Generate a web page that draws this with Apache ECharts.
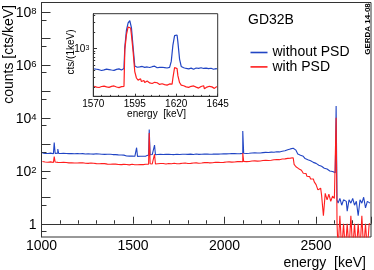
<!DOCTYPE html>
<html><head><meta charset="utf-8">
<script src="https://cdn.jsdelivr.net/npm/echarts@6/dist/echarts.min.js"></script>
<style>html,body{margin:0;padding:0;background:#fff}#c{width:374px;height:270px}</style>
</head><body><div id="c"></div>
<script>
// ---- main spectrum: 10 keV bins, centres 1005 ... 2795 keV (cts/keV) ----
const mainBinStart = 1005, mainBinWidth = 10;
const blueCounts = [
 465,450,458,447,462,455,441,452,460,448,
 446,452,439,449,443,437,450,441,436,445,
 438,431,442,429,436,440,427,433,425,437,
 424,430,419,427,415,421,411,418,408,414,
 405,398,402,392,389,370,362,358,365,356,
 352,360,348,355,346,351,358,380,395,402,
 408,415,404,411,418,407,413,420,409,416,
 412,419,408,415,421,410,417,413,422,416,
 418,424,413,420,427,416,422,419,428,421,
 425,419,430,423,428,434,426,431,424,437,
 432,440,436,444,438,447,441,450,445,452,
 458,449,462,455,468,460,472,465,477,470,
 484,478,492,486,499,505,497,512,520,514,
 528,545,566,590,622,668,728,705,600,505,
 430,385,350,312,288,262,240,220,207,190,
 176,162,148,136,125,116,106,98,94,90,
 85,8,6,9,5,8,7,3,8,6,
 9,5,7,2,8,6,10,4,7,6
];
const redCounts = [
 222,214,218,209,216,211,205,213,207,210,
 204,209,201,206,198,204,200,195,203,197,
 199,194,201,192,197,190,195,188,193,186,
 190,184,188,181,186,178,183,176,180,174,
 178,172,176,170,174,168,173,167,171,175,
 169,174,168,172,177,171,176,180,178,184,
 181,186,179,184,188,182,187,180,185,189,
 183,188,192,185,190,186,193,188,195,189,
 194,190,197,192,199,193,201,196,203,198,
 204,199,206,201,208,203,210,205,212,207,
 213,209,216,211,219,214,221,217,224,219,
 226,221,229,224,232,228,236,231,240,235,
 244,239,249,245,254,250,259,256,265,262,
 270,276,281,288,293,299,306,310,175,142,
 120,104,99,80,79,62,60,49,49,38,
 30,19,22,12,2,14,8,13,7,11,
 9,1,0,2,0,1,0,1,0,2,
 0,1,0,1,0,2,0,1,0,1
];
// narrow gamma lines (energy keV, cts/keV at line maximum)
const bluePeakE = [1074, 1093, 1524, 1592, 1620, 2104, 2614];
const bluePeakCounts = [1170, 660, 740, 3600, 930, 3150, 27500];
const redPeakE = [1074, 1592, 1620, 2104, 2614];
const redPeakCounts = [340, 2650, 420, 470, 10000];

// ---- inset: 1 keV bins, centres 1570.5 ... 1644.5 keV ----
const insetBinStart = 1570.5, insetBinWidth = 1;
const insetBlue = [
 425,418,402,410,397,415,408,420,400,413,405,422,398,416,410,425,405,418,430,
 1050,2150,2900,3200,2350,1050,480,
 455,462,448,470,452,445,460,450,442,465,475,458,445,452,440,455,448,462,440,452,470,
 580,1150,1700,1750,1300,640,470,
 445,432,440,425,438,430,418,440,428,435,445,420,432,438,415,428,436,425,418,430,422
];
const insetRed = [
 205,198,212,195,203,190,207,200,214,196,204,193,208,199,211,194,202,216,205,
 950,1800,2450,2350,1750,880,380,
 290,265,280,250,262,240,255,236,248,230,242,225,238,222,235,228,220,232,215,226,218,
 225,290,450,430,320,240,215,
 210,200,215,196,205,192,208,198,212,190,203,196,210,185,198,205,192,200,188,196,203
];

// ---- axis ticks / labels ----
const mainXLabels = [1000,1500,2000,2500];
const mainYDecades = [0,1,2,3,4,5,6,7,8];          // log10 of major ticks
const mainYLabelDecades = [0,2,4,6,8];
const mainYHalfTicks = [0.5,5,50,500,5e3,5e4,5e5,5e6,5e7];
const insetXTicks = [1570,1595,1620,1645];
const insetXMinor = [1575,1580,1585,1590,1600,1605,1610,1615,1625,1630,1635,1640];
const insetYLabelDecades = [3];
const insetYMinor = [200,300,400,500,600,700,800,900,2000,3000,4000];

const FONT = '"Liberation Sans", Arial, Helvetica, sans-serif';
const BLUE = '#2145c4', RED = '#ff1e1e', AXIS = '#333';
const lg = v => (v > 0 ? Math.log10(v) : -1);

function buildMain(counts, pe, pc) {
  const pts = counts.map((c, i) => [mainBinStart + i * mainBinWidth, c]);
  pe.forEach((e, k) => pts.push([e, pc[k]]));
  pts.sort((a, b) => a[0] - b[0]);
  return pts.map(p => [p[0], lg(p[1])]);
}
function buildInset(counts) {
  return counts.map((c, i) => [insetBinStart + i * insetBinWidth, lg(c)]);
}
const supFmt = v => {
  const n = Math.round(v);
  return n === 0 ? '1' : '10{s|' + n + '}';
};
const plain = v => String(Math.round(v));

const chart = echarts.init(document.getElementById('c'), null, {renderer: 'canvas'});
chart.setOption({
  animation: false,
  backgroundColor: '#fff',
  grid: [
    {left: 41.5, top: 2.5, right: 3, bottom: 33, show: true, borderColor: AXIS, borderWidth: 1, backgroundColor: 'transparent', outerBoundsMode: 'none'},
    {left: 93.3, top: 13.7, width: 124.4, height: 82.6, show: true, borderColor: AXIS, borderWidth: 1, backgroundColor: '#fff', outerBoundsMode: 'none', z: 3}
  ],
  xAxis: [
    {type: 'value', gridIndex: 0, min: 1000, max: 2800, interval: 500,
     axisLine: {show: true, lineStyle: {color: AXIS, width: 1}},
     axisTick: {show: true, inside: true, length: 7, lineStyle: {color: AXIS}},
     minorTick: {show: true, splitNumber: 5, length: 3.5, lineStyle: {color: AXIS}},
     axisLabel: {fontSize: 14, fontFamily: FONT, color: '#000', margin: 2, customValues: mainXLabels, formatter: plain},
     splitLine: {show: false}},
    {type: 'value', gridIndex: 1, min: 1570, max: 1645,
     axisLine: {show: true, lineStyle: {color: AXIS, width: 1}},
     axisTick: {show: true, inside: true, length: 2.6, customValues: insetXTicks, lineStyle: {color: AXIS}},
     axisLabel: {fontSize: 10, fontFamily: FONT, color: '#000', margin: 3, customValues: insetXTicks, formatter: plain},
     splitLine: {show: false}, z: 4},
    {type: 'value', gridIndex: 1, min: 1570, max: 1645, position: 'bottom',
     axisLine: {show: false},
     axisTick: {show: true, inside: true, length: 1.4, customValues: insetXMinor, lineStyle: {color: AXIS}},
     axisLabel: {show: false}, splitLine: {show: false}, z: 4}
  ],
  yAxis: [
    {type: 'value', gridIndex: 0, min: -0.5, max: 8.35, position: 'left',
     axisLine: {show: true, lineStyle: {color: AXIS, width: 1}},
     axisTick: {show: true, inside: true, length: 9, customValues: mainYDecades, lineStyle: {color: AXIS}},
     axisLabel: {fontSize: 14, fontFamily: FONT, color: '#000', margin: 5, padding: [3, 0, 0, 0],
       customValues: mainYLabelDecades, formatter: supFmt,
       rich: {s: {fontSize: 9.5, fontFamily: FONT, color: '#000', verticalAlign: 'top'}}},
     splitLine: {show: false}},
    {type: 'value', gridIndex: 0, min: -0.5, max: 8.35, position: 'left',
     axisLine: {show: false},
     axisTick: {show: true, inside: true, length: 5, customValues: mainYHalfTicks.map(Math.log10), lineStyle: {color: AXIS}},
     axisLabel: {show: false}, splitLine: {show: false}},
    {type: 'value', gridIndex: 1, min: 2.13, max: 3.63, position: 'left',
     axisLine: {show: true, lineStyle: {color: AXIS, width: 1}},
     axisTick: {show: true, inside: true, length: 3.7, customValues: insetYLabelDecades, lineStyle: {color: AXIS}},
     axisLabel: {fontSize: 10, fontFamily: FONT, color: '#000', margin: 4, padding: [2, 0, 0, 0],
       customValues: insetYLabelDecades, formatter: supFmt,
       rich: {s: {fontSize: 7, fontFamily: FONT, color: '#000', verticalAlign: 'top'}}},
     splitLine: {show: false}, z: 4},
    {type: 'value', gridIndex: 1, min: 2.13, max: 3.63, position: 'left',
     axisLine: {show: false},
     axisTick: {show: true, inside: true, length: 1.9, customValues: insetYMinor.map(Math.log10), lineStyle: {color: AXIS}},
     axisLabel: {show: false}, splitLine: {show: false}, z: 4}
  ],
  legend: {
    orient: 'vertical', left: 250.5, top: 45.5, padding: 0, itemGap: 0.4,
    itemWidth: 17, itemHeight: 1.6, icon: 'rect',
    textStyle: {fontSize: 14, fontFamily: FONT, color: '#000'},
    data: ['without PSD', 'with PSD']
  },
  series: [
    {name: 'without PSD', type: 'line', xAxisIndex: 0, yAxisIndex: 0, step: 'middle', symbol: 'none',
     color: BLUE, lineStyle: {color: BLUE, width: 1.1}, data: buildMain(blueCounts, bluePeakE, bluePeakCounts), z: 2},
    {name: 'with PSD', type: 'line', xAxisIndex: 0, yAxisIndex: 0, step: 'middle', symbol: 'none',
     color: RED, lineStyle: {color: RED, width: 1.1}, data: buildMain(redCounts, redPeakE, redPeakCounts), z: 2},
    {name: 'without PSD', type: 'line', xAxisIndex: 1, yAxisIndex: 2, step: 'middle', symbol: 'none',
     color: BLUE, lineStyle: {color: BLUE, width: 1.2}, data: buildInset(insetBlue), z: 5},
    {name: 'with PSD', type: 'line', xAxisIndex: 1, yAxisIndex: 2, step: 'middle', symbol: 'none',
     color: RED, lineStyle: {color: RED, width: 1.2}, data: buildInset(insetRed), z: 5}
  ],
  graphic: [
    {type: 'text', x: 9, y: 5, rotation: Math.PI / 2, z: 10,
     style: {text: 'counts [cts/keV]', font: '14px ' + FONT, fill: '#000', align: 'right', verticalAlign: 'middle'}},
    {type: 'text', x: 366, y: 263, z: 10,
     style: {text: 'energy  [keV]', font: '14px ' + FONT, fill: '#000', align: 'right', verticalAlign: 'middle'}},
    {type: 'text', x: 248, y: 20, z: 10,
     style: {text: 'GD32B', font: '14px ' + FONT, fill: '#000', align: 'left', verticalAlign: 'middle'}},
    {type: 'text', x: 367.5, y: 29, rotation: Math.PI / 2, z: 10,
     style: {text: 'GERDA 14-08', font: 'bold 8px ' + FONT, fill: '#000', align: 'center', verticalAlign: 'middle'}},
    {type: 'text', x: 71.5, y: 52, rotation: Math.PI / 2, z: 10,
     style: {text: 'cts/(1keV)', font: '10px ' + FONT, fill: '#000', align: 'center', verticalAlign: 'middle'}},
    {type: 'text', x: 186, y: 114, z: 10,
     style: {text: 'energy  [keV]', font: '10px ' + FONT, fill: '#000', align: 'right', verticalAlign: 'middle'}}
  ]
});
</script></body></html>
